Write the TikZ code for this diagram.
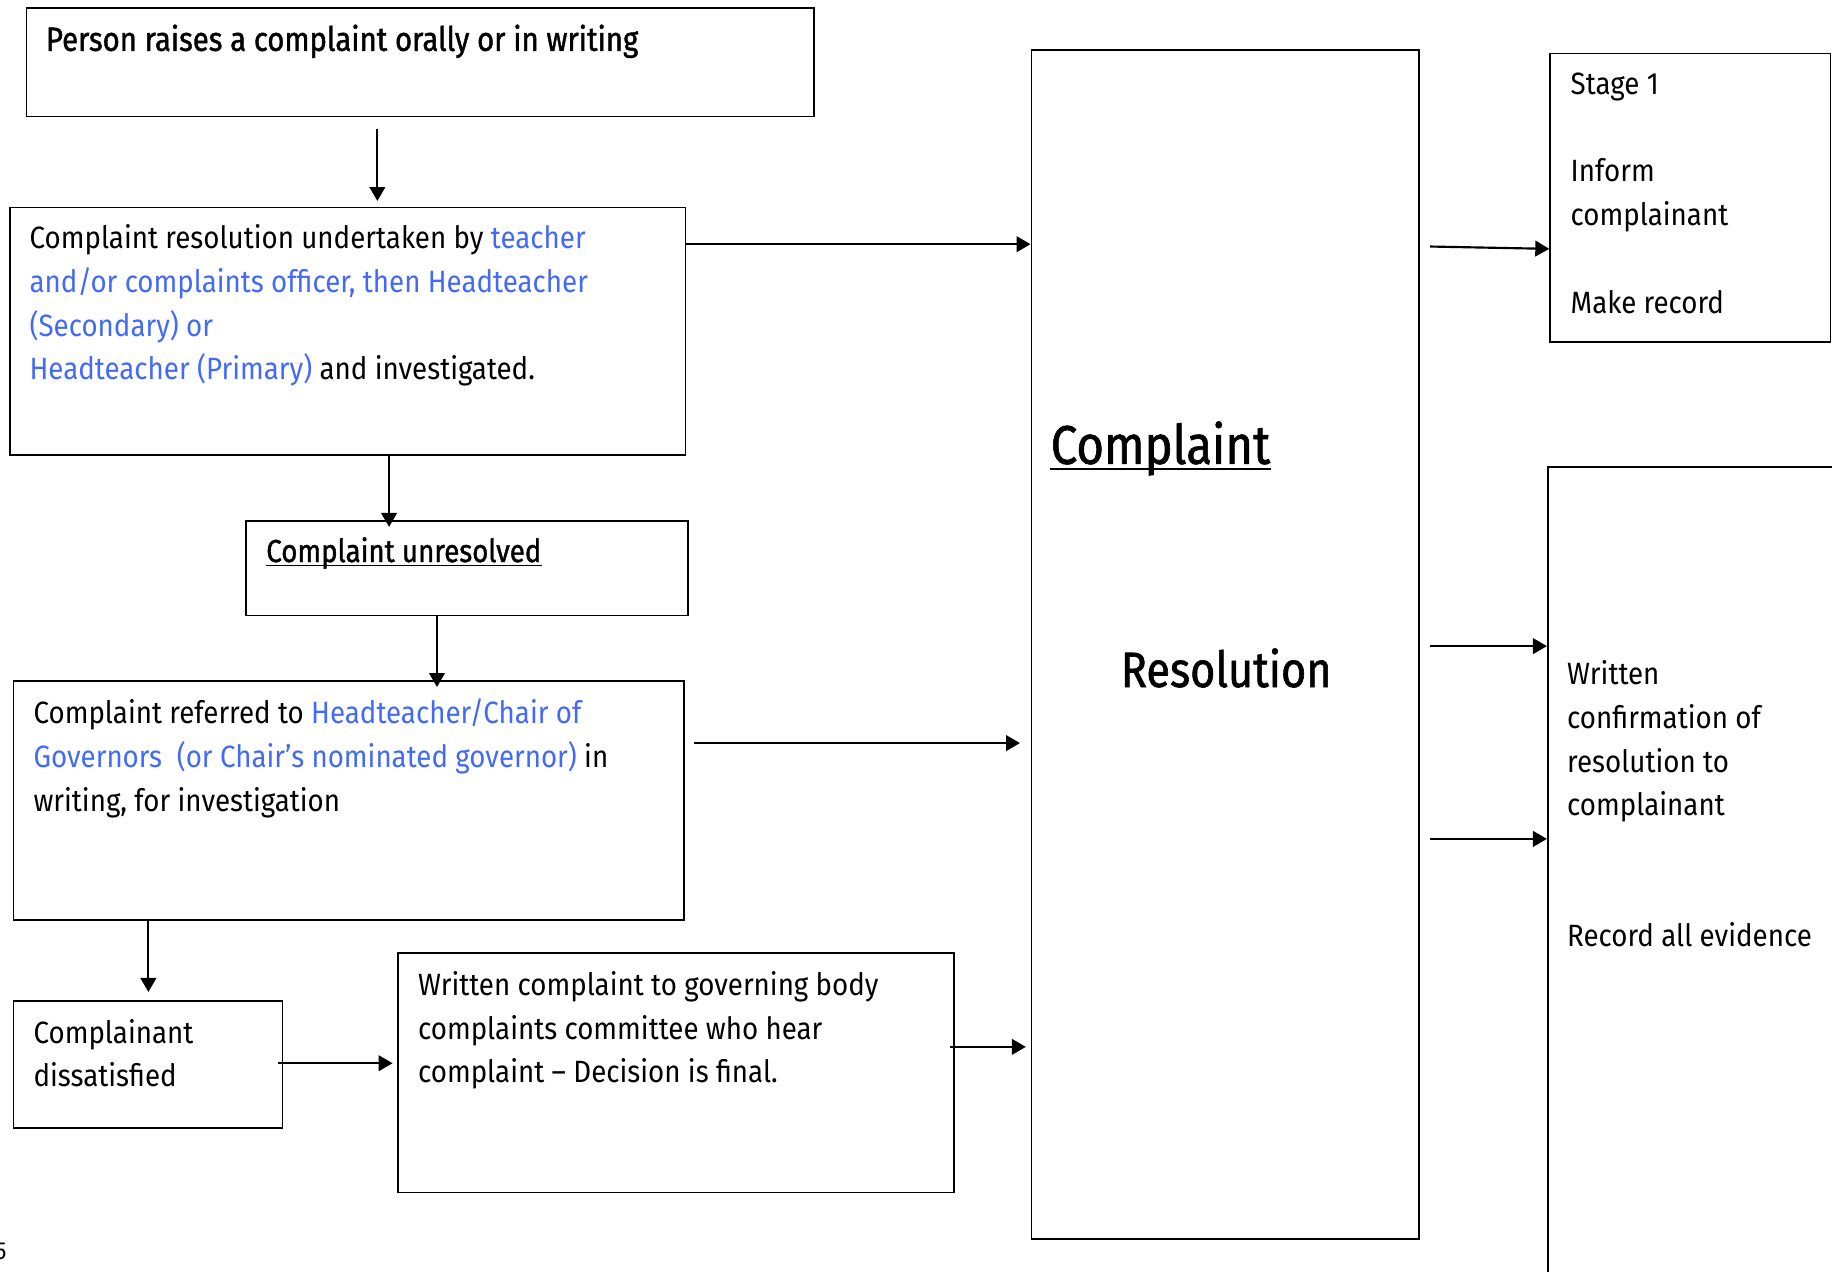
\documentclass[tikz,border=0pt]{standalone}
\usepackage{fontspec}
\setmainfont{Fira Sans}[FakeStretch=0.9]
\newfontfamily\headfont{Fira Sans}[FakeStretch=0.87,FakeBold=1.2]
\usetikzlibrary{positioning,arrows.meta}

\definecolor{linkblue}{RGB}{66,106,247}

\tikzset{
  box/.style={draw,line width=0.8pt,inner sep=0pt,anchor=north west},
  txt/.style={anchor=north west,inner sep=0pt,align=left,
    font=\fontsize{15}{21.3}\selectfont,execute at begin node={\strut}},
  head/.style={txt,font=\headfont\fontsize{16.4}{21.3}\selectfont},
  big/.style={anchor=base west,inner sep=0pt,font=\headfont\fontsize{26.5}{30}\selectfont},
  flow/.style={-{Triangle[length=6.8pt,width=7.6pt]},line width=1.05pt},
}

\newcommand{\blu}[1]{\textcolor{linkblue}{#1}}

\begin{document}
\begin{tikzpicture}[x=0.02cm,y=-0.02cm]

  \useasboundingbox (0,0) rectangle (1568,1088);

  % Boxes

  \node[box,minimum width=13.48cm,minimum height=1.86cm] (raise) at (22,6) {};
  \node[box,minimum width=11.56cm,minimum height=4.24cm] (first) at (8,177) {};
  \node[box,minimum width=7.56cm,minimum height=1.62cm] (unres) at (210,445) {};
  \node[box,minimum width=11.48cm,minimum height=4.10cm] (refer) at (11,582) {};
  \node[box,minimum width=4.60cm,minimum height=2.18cm] (dissat) at (11,856) {};
  \node[box,minimum width=9.52cm,minimum height=4.10cm] (comm) at (340,815) {};
  \node[box,minimum width=6.64cm,minimum height=20.36cm] (resol) at (882,42) {};
  \node[box,minimum width=4.80cm,minimum height=4.94cm] (stage) at (1326,45) {};
  \node[box,minimum width=5.92cm,minimum height=14.42cm] (confirm) at (1324,399) {};

  % Texts

  \node[head] (raise_t) at ([shift={(17,11)}]raise.north west)
    {Person raises a complaint orally or in writing};
  \node[txt] (first_t) at ([shift={(17,15)}]first.north west)
    {Complaint resolution undertaken by \blu{teacher}\\
     \blu{and/or complaints officer, then Headteacher}\\
     \blu{(Secondary) or}\\
     \blu{Headteacher (Primary)} and investigated.};
  \node[head,font=\headfont\fontsize{15.5}{21.3}\selectfont] (unres_t) at ([shift={(17.6,9.5)}]unres.north west)
    {Complaint unresolved};
  \node[txt] (refer_t) at ([shift={(17.4,16)}]refer.north west)
    {Complaint referred to \blu{Headteacher/Chair of}\\
     \blu{Governors\ \ (or Chair’s nominated governor)} in\\
     writing, for investigation};
  \node[txt] (dissat_t) at ([shift={(17.4,16)}]dissat.north west)
    {Complainant\\ dissatisfied};
  \node[txt] (comm_t) at ([shift={(17.5,16)}]comm.north west)
    {Written complaint to governing body\\
     complaints committee who hear\\
     complaint – Decision is final.};
  \node[big] (resol_a) at ([shift={(17,355)}]resol.north west) {Complaint};
  \node[big,font=\headfont\fontsize{24.2}{30}\selectfont] (resol_b) at ([shift={(77,546)}]resol.north west) {Resolution};
  \node[txt] (stage_t) at ([shift={(18,17)}]stage.north west)
    {Stage 1\\ \\ Inform\\ complainant\\ \\ Make record};
  \node[txt] (confirm_t) at ([shift={(17,166)}]confirm.north west)
    {Written\\ confirmation of\\ resolution to\\ complainant\\ \\ \\ Record all evidence};
  \node[anchor=base east,inner sep=0pt,font=\fontsize{12}{14}\selectfont] (pagenum) at (6,1078) {5};

  \draw[line width=0.6pt] ([yshift=-1.5pt]unres_t.base west) -- ([yshift=-1.5pt]unres_t.base east);
  \draw[line width=0.9pt] ([yshift=-2.5pt]resol_a.base west) -- ([yshift=-2.5pt]resol_a.base east);

  % Edges

  \coordinate (e1) at (323,110);
  \coordinate (e2) at (333,389);
  \coordinate (e3) at (374,526);
  \coordinate (e4) at (127,787);
  \coordinate (e5) at (238,910);
  \coordinate (e6) at (813,896);
  \coordinate (e8) at (594,636);
  \coordinate (e9) at (1224,211);
  \coordinate (e10) at (1224,553);
  \coordinate (e11) at (1224,718);

  \draw[flow,shorten >=5*0.02cm] (e1) -- (e1 |- first.north); %
  \draw[flow,shorten >=-6*0.02cm] (e2) -- (e2 |- unres.north); %
  \draw[flow,shorten >=-6*0.02cm] (e3) -- (e3 |- refer.north); %
  \draw[flow,shorten >=7*0.02cm] (e4) -- (e4 |- dissat.north); %
  \draw[flow,shorten >=4*0.02cm] (e5) -- (e5 -| comm.west); %
  \draw[flow,shorten >=4*0.02cm] (e6) -- (e6 -| resol.west); %
  \draw[flow] (first.east |- 0,209) -- (resol.west |- 0,209); %
  \draw[flow,shorten >=9*0.02cm] (e8) -- (e8 -| resol.west); %
  \draw[flow] (e9) -- ([yshift=-2*0.02cm]e9 -| stage.west); %
  \draw[flow] (e10) -- (e10 -| confirm.west); %
  \draw[flow] (e11) -- (e11 -| confirm.west); %

\end{tikzpicture}
\end{document}
